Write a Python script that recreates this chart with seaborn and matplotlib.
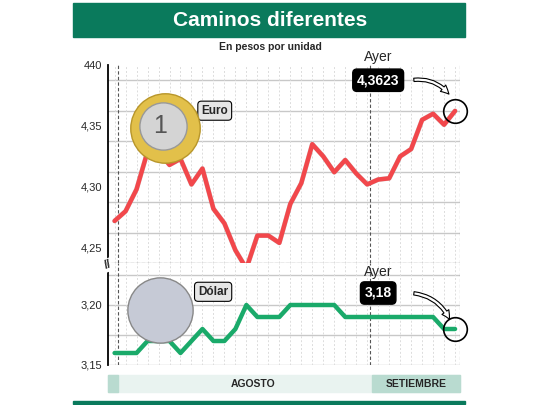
import numpy as np
import pandas as pd
import matplotlib
matplotlib.use("Agg")
import matplotlib.pyplot as plt
import matplotlib.patches as mpatches
import seaborn as sns

# Cotizaciones diarias (agosto - setiembre)
euro = [4.272, 4.280, 4.298, 4.329, 4.329, 4.318, 4.323, 4.302, 4.315, 4.282,
        4.270, 4.248, 4.233, 4.260, 4.260, 4.254, 4.286, 4.303, 4.335, 4.325,
        4.312, 4.322, 4.311, 4.302, 4.306, 4.307, 4.325, 4.331, 4.355, 4.360,
        4.351, 4.3623]
dolar = [3.16, 3.16, 3.16, 3.17, 3.17, 3.17, 3.16, 3.17, 3.18, 3.17,
         3.17, 3.18, 3.20, 3.19, 3.19, 3.19, 3.20, 3.20, 3.20, 3.20,
         3.20, 3.19, 3.19, 3.19, 3.19, 3.19, 3.19, 3.19, 3.19, 3.19,
         3.18, 3.18]
euro_ticks = [4.25, 4.30, 4.35, 4.40]
euro_labels = ["4,25", "4,30", "4,35", "440"]
dolar_ticks = [3.15, 3.20]
dolar_labels = ["3,15", "3,20"]
setiembre_start = 23.3

df = pd.DataFrame({"dia": range(len(euro)), "euro": euro, "dolar": dolar})

sns.set_theme(style="white")
plt.rcParams['font.family'] = ['Liberation Sans', 'DejaVu Sans']

GREEN = "#0a7a5c"
fig = plt.figure(figsize=(5.4, 4.05), dpi=100)

# banda de título
fig.patches.append(mpatches.Rectangle((73/540, 1-37/405), 392/540, 34/405,
                   transform=fig.transFigure, color=GREEN, zorder=0))
fig.text(0.5, 1-20/405, "Caminos diferentes", ha="center", va="center",
         color="white", fontsize=15, fontweight="bold")
fig.text(0.5, 1-47/405, "En pesos por unidad", ha="center", va="center",
         fontsize=7.5, fontweight="bold")
fig.patches.append(mpatches.Rectangle((73/540, 1-404/405), 392/540, 3/405,
                   transform=fig.transFigure, color=GREEN, zorder=0))

ax1 = fig.add_axes([108/540, 1-263/405, 352/540, 198/405])
ax2 = fig.add_axes([108/540, 1-365/405, 352/540, 102/405])

def style(ax, lo, hi, step, ticks, labels):
    ax.set_xlim(-0.6, 31.45)
    ax.set_ylim(lo, hi)
    for v in np.arange(lo, hi + 1e-9, step):
        ax.axhline(v, color="#c8c8c8", lw=1, zorder=0)
    for i in range(32):
        ax.axvline(i, color="#dcdcdc", lw=0.7, ls=(0, (2, 2)), zorder=0)
    for xv in [0.3, setiembre_start, 31.45]:
        ax.axvline(xv, color="#555555", lw=0.8, ls=(0, (3, 2)), zorder=1)
    ax.set_yticks(ticks)
    ax.set_yticklabels(labels, fontsize=8)
    ax.set_xticks([])
    for s in ["top", "right", "bottom"]:
        ax.spines[s].set_visible(False)
    ax.spines["left"].set_color("black")
    ax.spines["left"].set_linewidth(1.3)
    ax.tick_params(axis="y", length=0, pad=4)

style(ax1, 4.2375, 4.40, 0.025, euro_ticks, euro_labels)
style(ax2, 3.15, 3.235, 0.025, dolar_ticks, dolar_labels)
ax1.axhline(4.2375, color="#555555", lw=0.8, ls=(0, (3, 2)), zorder=1)

sns.lineplot(data=df, x="dia", y="euro", ax=ax1, color="#aaaaaa", lw=3.5, alpha=0.5)
sns.lineplot(data=df, x="dia", y="euro", ax=ax1, color="#f2474b", lw=3.2)
sns.lineplot(data=df, x="dia", y="dolar", ax=ax2, color="#1aaa6a", lw=3.2)
for ax in (ax1, ax2):
    ax.set_xlabel("")
    ax.set_ylabel("")

# monedas (marcadores redondos en puntos)
ax1.plot([4.6], [4.348], "o", ms=50, mfc="#e2c04a", mec="#b8962a", zorder=4)
ax1.plot([4.4], [4.350], "o", ms=34, mfc="#d4d4d4", mec="#999999", zorder=5)
ax1.text(4.1, 4.350, "1", fontsize=18, ha="center", va="center", zorder=6, color="#555555")
ax1.text(7.9, 4.3625, "Euro", fontsize=8.5, fontweight="bold", zorder=3, va="center",
         bbox=dict(boxstyle="round,pad=0.3", fc="#e6e6e6", ec="black", lw=0.8))
ax2.plot([4.1], [3.196], "o", ms=47, mfc="#c6cad6", mec="#888888", zorder=4, clip_on=False)
ax2.text(7.6, 3.211, "Dólar", fontsize=8.5, fontweight="bold", zorder=3, va="center",
         bbox=dict(boxstyle="round,pad=0.3", fc="#e6e6e6", ec="black", lw=0.8))

# callouts "Ayer"
for ax, yv, lab, yb, ya, dy in [(ax1, euro[-1], "4,3623", 4.3875, 4.4067, 0.012),
                                (ax2, dolar[-1], "3,18", 3.210, 3.2275, 0.006)]:
    ax.plot([31], [yv], "o", ms=17, mfc="none", mec="black", mew=1.2, zorder=6, clip_on=False)
    ax.text(24.0, yb, lab, fontsize=10, fontweight="bold", color="white", ha="center",
            va="center", zorder=6,
            bbox=dict(boxstyle="round,pad=0.3", fc="black", ec="black"))
    ax.text(24.0, ya, "Ayer", fontsize=10, ha="center", va="center", zorder=6, clip_on=False)
    ax.annotate("", xy=(30.6, yv + dy), xytext=(27.0, yb), zorder=6, annotation_clip=False,
                arrowprops=dict(arrowstyle="simple", fc="white", ec="black", lw=0.8,
                                connectionstyle="arc3,rad=-0.3"))

# bandas de meses
fig.patches.append(mpatches.Rectangle((108/540, 1-392/405), 352/540, 17/405,
                   transform=fig.transFigure, color="#e9f3f0", zorder=0))
fig.patches.append(mpatches.Rectangle((372/540, 1-392/405), 88/540, 17/405,
                   transform=fig.transFigure, color="#b9dbd0", zorder=0))
fig.patches.append(mpatches.Rectangle((108/540, 1-392/405), 10/540, 17/405,
                   transform=fig.transFigure, color="#b9dbd0", zorder=0))
fig.text(253/540, 1-384/405, "AGOSTO", ha="center", va="center", fontsize=7.5, fontweight="bold")
fig.text(416/540, 1-384/405, "SETIEMBRE", ha="center", va="center", fontsize=7.5, fontweight="bold")

fig.text(108/540, 1-265/405, "//", fontsize=9, rotation=20, ha="center", va="center",
         fontweight="bold", bbox=dict(fc="white", ec="none", pad=0.5))

fig.savefig("out.png", dpi=100)
